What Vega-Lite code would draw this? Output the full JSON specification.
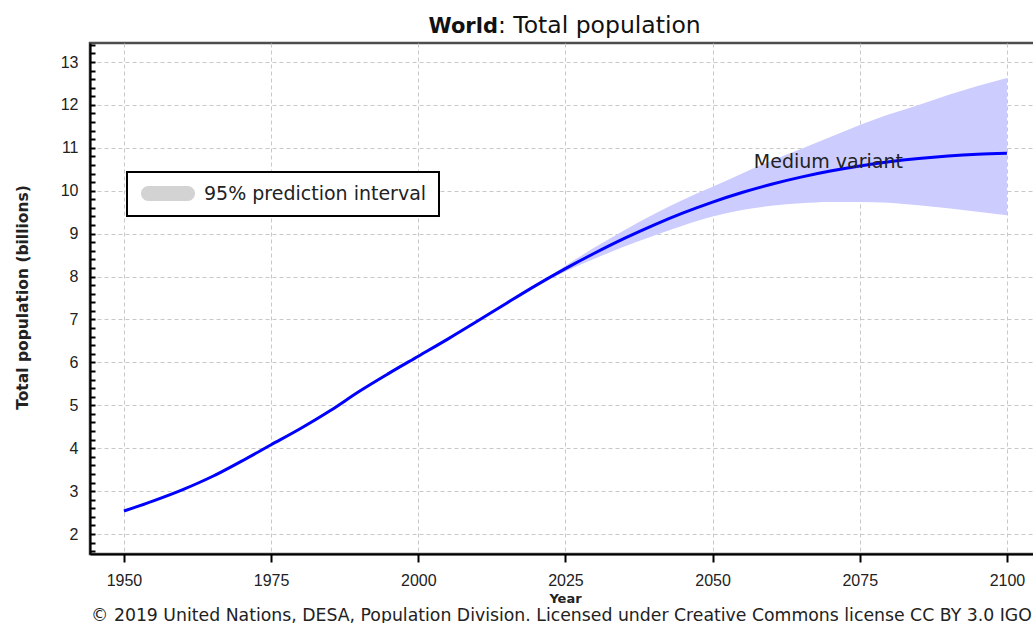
{
  "$schema": "https://vega.github.io/schema/vega-lite/v6.json",
  "width": 945,
  "height": 511,
  "autosize": {"type": "none"},
  "padding": {"left": 90, "top": 43, "right": 0, "bottom": 69},
  "background": "white",
  "config": {
    "view": {"stroke": "#4d4d4d", "strokeWidth": 2.5},
    "font": "DejaVu Sans",
    "axisX": {
      "titleFont": "DejaVu Sans", "titleFontWeight": "bold", "titleFontSize": 13, "titleColor": "#222",
      "titleX": 475, "titleY": 44, "titleAlign": "center", "titleBaseline": "middle",
      "labelFont": "Liberation Sans", "labelFontSize": 16, "labelColor": "#222",
      "labelPadding": 10, "labelFlush": false,
      "tickSize": 8, "tickWidth": 2, "tickColor": "black",
      "domainColor": "black", "domainWidth": 2,
      "grid": true, "gridColor": "#c8c8c8", "gridDash": [4, 3], "gridWidth": 1
    },
    "axisY": {
      "titleFont": "DejaVu Sans", "titleFontWeight": "bold", "titleFontSize": 15.5, "titleColor": "#222",
      "titleX": -68, "titleY": 254, "titleAngle": -90, "titleAlign": "center", "titleBaseline": "middle",
      "labelFont": "Liberation Sans", "labelFontSize": 16, "labelColor": "#222",
      "labelPadding": 17, "labelFlush": false, "labelOverlap": false,
      "tickSize": -5, "tickWidth": 2, "tickColor": "black",
      "domainColor": "black", "domainWidth": 2,
      "grid": true, "gridColor": "#c8c8c8", "gridDash": [4, 3], "gridWidth": 1
    }
  },
  "datasets": {
    "pop": [
      {"year": 1950, "pop": 2.536, "lo": null, "hi": null},
      {"year": 1955, "pop": 2.773, "lo": null, "hi": null},
      {"year": 1960, "pop": 3.035, "lo": null, "hi": null},
      {"year": 1965, "pop": 3.340, "lo": null, "hi": null},
      {"year": 1970, "pop": 3.700, "lo": null, "hi": null},
      {"year": 1975, "pop": 4.079, "lo": null, "hi": null},
      {"year": 1980, "pop": 4.458, "lo": null, "hi": null},
      {"year": 1985, "pop": 4.871, "lo": null, "hi": null},
      {"year": 1990, "pop": 5.327, "lo": null, "hi": null},
      {"year": 1995, "pop": 5.744, "lo": null, "hi": null},
      {"year": 2000, "pop": 6.143, "lo": null, "hi": null},
      {"year": 2005, "pop": 6.542, "lo": null, "hi": null},
      {"year": 2010, "pop": 6.957, "lo": null, "hi": null},
      {"year": 2015, "pop": 7.380, "lo": null, "hi": null},
      {"year": 2020, "pop": 7.795, "lo": 7.795, "hi": 7.795},
      {"year": 2025, "pop": 8.184, "lo": 8.12, "hi": 8.25},
      {"year": 2030, "pop": 8.548, "lo": 8.42, "hi": 8.68},
      {"year": 2035, "pop": 8.888, "lo": 8.70, "hi": 9.08},
      {"year": 2040, "pop": 9.199, "lo": 8.95, "hi": 9.45},
      {"year": 2045, "pop": 9.482, "lo": 9.19, "hi": 9.79},
      {"year": 2050, "pop": 9.735, "lo": 9.40, "hi": 10.09},
      {"year": 2055, "pop": 9.958, "lo": 9.55, "hi": 10.40},
      {"year": 2060, "pop": 10.152, "lo": 9.65, "hi": 10.70},
      {"year": 2065, "pop": 10.318, "lo": 9.71, "hi": 10.97},
      {"year": 2070, "pop": 10.459, "lo": 9.74, "hi": 11.25},
      {"year": 2075, "pop": 10.577, "lo": 9.74, "hi": 11.53},
      {"year": 2080, "pop": 10.674, "lo": 9.72, "hi": 11.78},
      {"year": 2085, "pop": 10.750, "lo": 9.66, "hi": 12.00},
      {"year": 2090, "pop": 10.809, "lo": 9.59, "hi": 12.23},
      {"year": 2095, "pop": 10.851, "lo": 9.51, "hi": 12.44},
      {"year": 2100, "pop": 10.875, "lo": 9.43, "hi": 12.63}
    ]
  },
  "layer": [
    {
      "data": {"name": "pop"},
      "transform": [{"filter": "datum.lo != null"}],
      "mark": {"type": "area", "interpolate": "monotone", "color": "#ccccff", "opacity": 1},
      "encoding": {
        "x": {
          "field": "year", "type": "quantitative",
          "scale": {"domain": [1944.23, 2104.77], "nice": false, "zero": false},
          "axis": {"title": "Year", "values": [1950, 1975, 2000, 2025, 2050, 2075, 2100], "tickCount": 20, "format": "d"}
        },
        "y": {
          "field": "lo", "type": "quantitative",
          "scale": {"domain": [1.534, 13.443], "nice": false, "zero": false},
          "axis": {
            "title": "Total population (billions)",
            "values": [1.6,1.8,2,2.2,2.4,2.6,2.8,3,3.2,3.4,3.6,3.8,4,4.2,4.4,4.6,4.8,5,5.2,5.4,5.6,5.8,6,6.2,6.4,6.6,6.8,7,7.2,7.4,7.6,7.8,8,8.2,8.4,8.6,8.8,9,9.2,9.4,9.6,9.8,10,10.2,10.4,10.6,10.8,11,11.2,11.4,11.6,11.8,12,12.2,12.4,12.6,12.8,13,13.2,13.4],
            "tickCount": 100,
            "labelExpr": "abs(datum.value - round(datum.value)) < 0.001 ? format(datum.value, 'd') : ''",
            "labelOverlap": false,
            "gridOpacity": {"condition": {"test": "abs(datum.value - round(datum.value)) < 0.001", "value": 1}, "value": 0}
          }
        },
        "y2": {"field": "hi"}
      }
    },
    {
      "data": {"name": "pop"},
      "transform": [{"filter": "false"}],
      "mark": {"type": "area"},
      "encoding": {
        "x": {"field": "year", "type": "quantitative", "scale": {"domain": [1944.23, 2104.77], "nice": false, "zero": false}},
        "y": {"field": "pop", "type": "quantitative", "scale": {"domain": [1.534, 13.443], "nice": false, "zero": false}},
        "color": {
          "datum": "95% prediction interval",
          "type": "nominal",
          "scale": {"domain": ["95% prediction interval"], "range": ["#d3d3d3"]},
          "legend": {
            "orient": "none", "legendX": 37, "legendY": 129,
            "title": null,
            "fillColor": "white", "strokeColor": "black", "padding": 12,
            "symbolType": "M0,-1L5.2,-1A1,1 0 0 1 5.2,1L0,1A1,1 0 0 1 0,-1Z",
            "symbolSize": 225,
            "symbolOpacity": 1,
            "symbolStrokeWidth": 0,
            "labelFont": "DejaVu Sans", "labelFontSize": 19, "labelColor": "#222",
            "labelOffset": 46, "labelLimit": 0,
            "encode": {
              "legend": {"update": {"strokeWidth": {"value": 2}}}
            }
          }
        }
      }
    },
    {
      "data": {"name": "pop"},
      "mark": {"type": "line", "color": "#0000ff", "strokeWidth": 3, "interpolate": "monotone"},
      "encoding": {
        "x": {"field": "year", "type": "quantitative", "scale": {"domain": [1944.23, 2104.77], "nice": false, "zero": false}},
        "y": {"field": "pop", "type": "quantitative", "scale": {"domain": [1.534, 13.443], "nice": false, "zero": false}}
      }
    },
    {
      "data": {"values": [{"label": "Medium variant", "year": 2057.0, "val": 10.523}]},
      "mark": {"type": "text", "align": "left", "baseline": "alphabetic", "font": "DejaVu Sans", "fontSize": 19, "color": "#222"},
      "encoding": {
        "x": {"field": "year", "type": "quantitative", "scale": {"domain": [1944.23, 2104.77], "nice": false, "zero": false}},
        "y": {"field": "val", "type": "quantitative", "scale": {"domain": [1.534, 13.443], "nice": false, "zero": false}},
        "text": {"field": "label"}
      }
    },
    {
      "data": {"values": [{"label": "World", "year": 2013.53, "val": 13.669}]},
      "mark": {"type": "text", "align": "right", "baseline": "alphabetic", "font": "DejaVu Sans", "fontSize": 21, "fontWeight": "bold", "color": "#111"},
      "encoding": {
        "x": {"field": "year", "type": "quantitative", "scale": {"domain": [1944.23, 2104.77], "nice": false, "zero": false}},
        "y": {"field": "val", "type": "quantitative", "scale": {"domain": [1.534, 13.443], "nice": false, "zero": false}},
        "text": {"field": "label"}
      }
    },
    {
      "data": {"values": [{"label": ": Total population", "year": 2013.53, "val": 13.669}]},
      "mark": {"type": "text", "align": "left", "baseline": "alphabetic", "font": "DejaVu Sans", "fontSize": 23.5, "color": "#111"},
      "encoding": {
        "x": {"field": "year", "type": "quantitative", "scale": {"domain": [1944.23, 2104.77], "nice": false, "zero": false}},
        "y": {"field": "val", "type": "quantitative", "scale": {"domain": [1.534, 13.443], "nice": false, "zero": false}},
        "text": {"field": "label"}
      }
    },
    {
      "data": {"values": [{"label": "© 2019 United Nations, DESA, Population Division. Licensed under Creative Commons license CC BY 3.0 IGO", "year": 2024.32, "val": -0.03}]},
      "mark": {"type": "text", "align": "center", "baseline": "alphabetic", "font": "DejaVu Sans", "fontSize": 17.3, "color": "#222"},
      "encoding": {
        "x": {"field": "year", "type": "quantitative", "scale": {"domain": [1944.23, 2104.77], "nice": false, "zero": false}},
        "y": {"field": "val", "type": "quantitative", "scale": {"domain": [1.534, 13.443], "nice": false, "zero": false}},
        "text": {"field": "label"}
      }
    }
  ]
}
